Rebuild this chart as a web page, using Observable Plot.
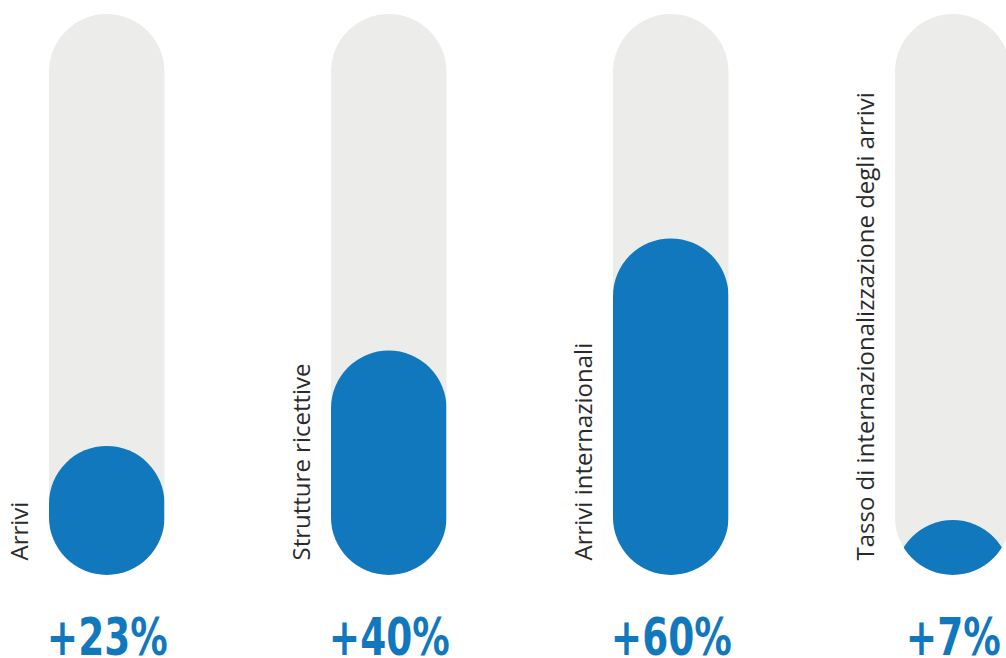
<!DOCTYPE html>
<html><head><meta charset="utf-8">
<script src="https://cdn.jsdelivr.net/npm/d3@7"></script>
<script src="https://cdn.jsdelivr.net/npm/@observablehq/plot@0.6"></script>
<style>html,body{margin:0;padding:0;background:#fff;overflow:hidden}</style>
</head><body><div id="chart"></div>
<script>
const categories = ["Arrivi", "Strutture ricettive", "Arrivi internazionali", "Tasso di internazionalizzazione degli arrivi"];
const changeLabels = ["+23%", "+40%", "+60%", "+7%"];
const fillLevels = [23, 40, 60, 9.8];
const trackMax = 100;

const data = categories.map((c, i) => ({category: c, label: changeLabels[i], level: fillLevels[i]}));

const blue = "#1278be";
const grey = "#ecedeb";

const plot = Plot.plot({
  width: 1006,
  height: 658,
  style: {background: "#fff", overflow: "hidden"},
  x: {type: "band", domain: categories, range: [49, 1010.5], paddingInner: 0.5904, paddingOuter: 0, round: false, axis: null},
  y: {domain: [0, trackMax], range: [575, 14], axis: null},
  marks: [
    Plot.barY(data, {x: "category", y1: 0, y2: trackMax, fill: grey, rx: 57.75}),
    Plot.barY(data, {x: "category", y1: d => d.level - trackMax, y2: "level", fill: blue, rx: 57.75}),
    Plot.text(data, {x: "category", y: 0, text: "category", rotate: -90, textAnchor: "start", lineAnchor: "middle",
      dx: -86.5, dy: -15, fontSize: 24, fill: "#2a2a2a", fontWeight: 400, fontFamily: "'Open Sans', Lato, sans-serif"}),
    Plot.text(data, {x: "category", y: 0, text: "label", lineAnchor: "bottom", dy: 79, fontSize: 52, fontWeight: 700,
      fill: blue, fontFamily: "'DejaVu Sans Condensed', 'DejaVu Sans', sans-serif"})
  ]
});

const svg = d3.select(plot);
const groups = svg.selectAll(":scope > g").nodes();
const tracks = d3.select(groups[0]).selectAll("rect").nodes();
const fills = d3.select(groups[1]).selectAll("rect").nodes();
const defs = svg.insert("defs", ":first-child");
tracks.forEach((r, i) => {
  const cp = defs.append("clipPath").attr("id", "trackclip" + i).attr("clipPathUnits", "userSpaceOnUse");
  cp.append("rect")
    .attr("x", r.getAttribute("x"))
    .attr("y", r.getAttribute("y"))
    .attr("width", r.getAttribute("width"))
    .attr("height", r.getAttribute("height"))
    .attr("rx", r.getAttribute("rx"))
    .attr("ry", r.getAttribute("ry"));
  if (fills[i]) fills[i].setAttribute("clip-path", `url(#trackclip${i})`);
});
// narrow the bold percentage labels horizontally (condensed look)
d3.select(groups[3]).selectAll("text").each(function() {
  const t = this.getAttribute("transform") || "";
  this.setAttribute("transform", t + " scale(0.8,1)");
});

document.getElementById("chart").appendChild(plot);
</script>
</body></html>
